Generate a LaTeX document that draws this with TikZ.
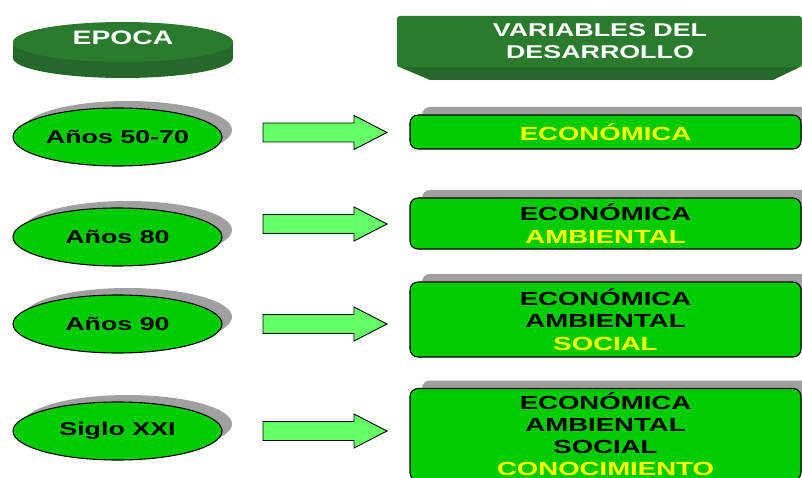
\documentclass[tikz,border=0pt]{standalone}
\usepackage{fontspec}
\setmainfont{Liberation Sans}
\newfontfamily\lab[FakeStretch=1.45]{Liberation Sans}
\usetikzlibrary{shapes.geometric,shadows}
\definecolor{eg}{HTML}{00CC00}
\definecolor{ag}{HTML}{66FF66}
\definecolor{ylw}{HTML}{FFFF00}
\definecolor{shd}{HTML}{A0A0A0}
\definecolor{hdr}{HTML}{2B7B2F}
\definecolor{hdrdark}{HTML}{25692A}
\begin{document}
\begin{tikzpicture}[x=1pt,y=-1pt,
  epoch/.style={ellipse,draw=black,line width=1.1pt,fill=eg,minimum width=209pt,minimum height=58pt,inner sep=0pt,
    font=\lab\bfseries\fontsize{18.5}{22}\selectfont,
    drop shadow={shadow xshift=10pt,shadow yshift=7pt,fill=shd,opacity=1}},
  varbox/.style={rectangle,rounded corners=8pt,draw=black,line width=1.1pt,fill=eg,minimum width=391pt,inner sep=0pt,
    align=center,font=\lab\bfseries\fontsize{19}{22.5}\selectfont,
    drop shadow={shadow xshift=12pt,shadow yshift=8pt,fill=shd,opacity=1}},
  arrowst/.style={draw=black,line width=0.9pt,fill=ag},
  barrow/.pic={\draw[arrowst] (0,-9.5) -- (91,-9.5) -- (91,-17) -- (124,0) -- (91,17) -- (91,9.5) -- (0,9.5) -- cycle;},
  hdrtext/.style={text=white,align=center,font=\lab\bfseries\fontsize{18.5}{22.5}\selectfont}
]
\useasboundingbox (0,0) rectangle (802,478);

% EPOCA disk
\fill[hdrdark] (123,58) ellipse [x radius=110, y radius=20];
\fill[hdrdark] (13,42) rectangle (233,58);
\fill[hdr] (123,42) ellipse [x radius=110, y radius=20];
\node[hdrtext,font=\lab\bfseries\fontsize{19.5}{22}\selectfont] (epoca) at (123,38) {EPOCA};

% header box
\fill[hdrdark] (397,66) -- (802,66) -- (773,80) -- (430,80) -- cycle;
\fill[hdr,rounded corners=3pt] (397,16) rectangle (802,67);
\node[hdrtext] (vars) at (600,41) {VARIABLES DEL\\DESARROLLO};

% epochs
\node[epoch] (e1) at (117.5,137) {Años 50-70};
\node[epoch] (e2) at (117.5,237) {Años 80};
\node[epoch] (e3) at (117.5,324) {Años 90};
\node[epoch] (e4) at (117.5,431) {Siglo XXI};

% arrows
\pic at (263,132.5) {barrow};
\pic at (263,224) {barrow};
\pic at (263,324) {barrow};
\pic at (263,431) {barrow};

% variable boxes
\node[varbox,minimum height=34pt] (v1) at (605.5,132) {\textcolor{ylw}{ECONÓMICA}};
\node[varbox,minimum height=51pt] (v2) at (605.5,223.5) {ECONÓMICA\\\textcolor{ylw}{AMBIENTAL}};
\node[varbox,minimum height=75pt] (v3) at (605.5,319.5) {ECONÓMICA\\AMBIENTAL\\\textcolor{ylw}{SOCIAL}};
\node[varbox,minimum height=92pt,font=\lab\bfseries\fontsize{19}{22}\selectfont] (v4) at (605.5,434.5) {ECONÓMICA\\AMBIENTAL\\SOCIAL\\\textcolor{ylw}{CONOCIMIENTO}};
\end{tikzpicture}
\end{document}
